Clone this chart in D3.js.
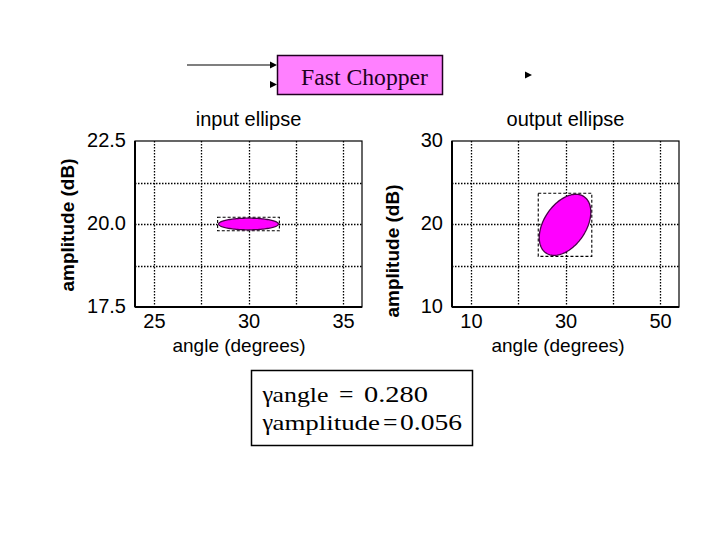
<!DOCTYPE html>
<html>
<head>
<meta charset="utf-8">
<script src="https://cdn.jsdelivr.net/npm/d3@7"></script>
<style>
  html, body { margin: 0; padding: 0; background: #fff; }
  svg { display: block; }
</style>
</head>
<body>
<svg id="chart" width="719" height="539"></svg>
<script>
// ---------------- data ----------------
const panelTitles = ["input ellipse", "output ellipse"];
const xDomains = [[24, 36], [6, 54]];
const yDomains = [[17.5, 22.5], [10, 30]];
const xTickValues = [[25, 30, 35], [10, 30, 50]];
const yTickValues = [[17.5, 20.0, 22.5], [10, 20, 30]];
const xGridValues = [[25, 27.5, 30, 32.5, 35], [10, 20, 30, 40, 50]];
const yGridValues = [[18.75, 20, 21.25], [15, 20, 25]];
const yTickFormats = [".1f", "d"];
// ellipse parameters: centre (angle, amplitude), half-widths, correlation
const ellipseCenterX = [30.0, 29.9];
const ellipseCenterY = [20.0, 19.9];
const ellipseHalfX = [1.58, 5.45];
const ellipseHalfY = [0.175, 3.68];
const ellipseCorr = [0.0, 0.42];
const gammaLabels = ["angle", "amplitude"];
const gammaValues = ["0.280", "0.056"];
const blockLabel = "Fast Chopper";

// ---------------- layout ----------------
const svg = d3.select("#chart");
svg.append("rect").attr("width", 719).attr("height", 539).attr("fill", "#fff");

const panels = [
  { left: 135, right: 362, top: 141, bottom: 307, ylabX: 74, ylabY: 225, xlabX: 239 },
  { left: 452, right: 679, top: 141, bottom: 307, ylabX: 399, ylabY: 251, xlabX: 558 }
];

panels.forEach((p, i) => {
  const x = d3.scaleLinear().domain(xDomains[i]).range([p.left, p.right]);
  const y = d3.scaleLinear().domain(yDomains[i]).range([p.bottom, p.top]);
  const g = svg.append("g");

  // frame
  g.append("rect")
    .attr("x", p.left).attr("y", p.top)
    .attr("width", p.right - p.left).attr("height", p.bottom - p.top)
    .attr("fill", "#fff").attr("stroke", "#000").attr("stroke-width", 1.2);

  // grid
  g.selectAll(".vg").data(xGridValues[i]).enter().append("line")
    .attr("x1", d => Math.round(x(d)) + 0.5).attr("x2", d => Math.round(x(d)) + 0.5)
    .attr("y1", p.top).attr("y2", p.bottom)
    .attr("stroke", "#000").attr("stroke-width", 1.3).attr("stroke-dasharray", "1.5,1.5");
  g.selectAll(".hg").data(yGridValues[i]).enter().append("line")
    .attr("x1", p.left).attr("x2", p.right)
    .attr("y1", d => Math.round(y(d)) + 0.5).attr("y2", d => Math.round(y(d)) + 0.5)
    .attr("stroke", "#000").attr("stroke-width", 1.3).attr("stroke-dasharray", "1.5,1.5");

  // ellipse
  const cx = ellipseCenterX[i], cy = ellipseCenterY[i];
  const a = ellipseHalfX[i], b = ellipseHalfY[i];
  const phi = Math.acos(ellipseCorr[i]);
  const ts = d3.range(0, 360, 3).map(t => t * Math.PI / 180);
  const pts = ts.map(t => [cx + a * Math.cos(t), cy + b * Math.cos(t - phi)]);
  const line = d3.line().x(d => x(d[0])).y(d => y(d[1])).curve(d3.curveLinearClosed);

  // bounding dashed box
  g.append("rect")
    .attr("x", x(cx - a) - 1).attr("y", y(cy + b) - 1)
    .attr("width", x(cx + a) - x(cx - a) + 2).attr("height", y(cy - b) - y(cy + b) + 2)
    .attr("fill", "none").attr("stroke", "#000").attr("stroke-width", 1.1)
    .attr("stroke-dasharray", "3,2");

  g.append("path").attr("d", line(pts))
    .attr("fill", "#ff00ff").attr("stroke", "#4a004a").attr("stroke-width", 1.3);

  // axes lines (thicker left/bottom)
  g.append("line").attr("x1", p.left).attr("x2", p.left).attr("y1", p.top).attr("y2", p.bottom)
    .attr("stroke", "#000").attr("stroke-width", 2);
  g.append("line").attr("x1", p.left).attr("x2", p.right).attr("y1", p.bottom).attr("y2", p.bottom)
    .attr("stroke", "#000").attr("stroke-width", 2);

  // axes ticks
  const ax = g.append("g").attr("transform", `translate(0,${p.bottom})`)
    .call(d3.axisBottom(x).tickValues(xTickValues[i]).tickSize(0).tickPadding(7).tickFormat(d3.format("d")));
  ax.select(".domain").remove();
  ax.selectAll("text").attr("font-family", "Liberation Sans, Arial, sans-serif")
    .attr("font-size", 20).attr("fill", "#000");

  const ay = g.append("g").attr("transform", `translate(${p.left},0)`)
    .call(d3.axisLeft(y).tickValues(yTickValues[i]).tickSize(0).tickPadding(9).tickFormat(d3.format(yTickFormats[i])));
  ay.select(".domain").remove();
  ay.selectAll("text").attr("font-family", "Liberation Sans, Arial, sans-serif")
    .attr("font-size", 20).attr("fill", "#000").attr("dy", "0.25em");

  // title
  g.append("text").attr("x", (p.left + p.right) / 2 + 0).attr("y", 126)
    .attr("text-anchor", "middle")
    .attr("font-family", "Liberation Sans, Arial, sans-serif").attr("font-size", 20)
    .text(panelTitles[i]);

  // x label
  g.append("text").attr("x", p.xlabX).attr("y", 352)
    .attr("text-anchor", "middle")
    .attr("font-family", "Liberation Sans, Arial, sans-serif").attr("font-size", 19)
    .text("angle (degrees)");

  // y label
  g.append("text")
    .attr("transform", `translate(${p.ylabX},${p.ylabY}) rotate(-90)`)
    .attr("text-anchor", "middle")
    .attr("font-family", "Liberation Sans, Arial, sans-serif").attr("font-size", 19)
    .attr("font-weight", "bold")
    .text("amplitude (dB)");
});

// ---------------- block diagram ----------------
const serif = "Liberation Serif, Times New Roman, serif";
function arrowHead(xTip, yc) {
  svg.append("path")
    .attr("d", `M${xTip - 7},${yc - 3.5} L${xTip},${yc} L${xTip - 7},${yc + 3.5} Z`)
    .attr("fill", "#000");
}
svg.append("line").attr("x1", 187).attr("x2", 272).attr("y1", 65).attr("y2", 65)
  .attr("stroke", "#000").attr("stroke-width", 1.2);
arrowHead(277, 65);
arrowHead(277, 84.5);
arrowHead(532, 75);

svg.append("rect").attr("x", 277.5).attr("y", 55.5).attr("width", 165).attr("height", 39)
  .attr("fill", "#ff80ff").attr("stroke", "#200020").attr("stroke-width", 1.5);
svg.append("text").attr("x", 301).attr("y", 85)
  .attr("font-family", serif).attr("font-size", 23.5).attr("fill", "#200020")
  .attr("textLength", 127).attr("lengthAdjust", "spacingAndGlyphs")
  .text(blockLabel);

// ---------------- gamma box ----------------
svg.append("rect").attr("x", 251.5).attr("y", 370.5).attr("width", 221).attr("height", 75)
  .attr("fill", "#fff").attr("stroke", "#000").attr("stroke-width", 1.5);

const gammaRows = [
  { base: 401.5, labX: 272.5, labW: 56, eqX: 339, valX: 364, valW: 64 },
  { base: 430, labX: 272.5, labW: 107.5, eqX: 383, valX: 400, valW: 62 }
];
gammaRows.forEach((r, i) => {
  svg.append("text").attr("x", 262.5).attr("y", r.base)
    .attr("font-family", serif).attr("font-size", 24).text("γ");
  svg.append("text").attr("x", r.labX).attr("y", r.base)
    .attr("font-family", serif).attr("font-size", 21)
    .attr("textLength", r.labW).attr("lengthAdjust", "spacingAndGlyphs")
    .text(gammaLabels[i]);
  svg.append("text").attr("x", r.eqX).attr("y", r.base)
    .attr("font-family", serif).attr("font-size", 24)
    .attr("textLength", 14.5).attr("lengthAdjust", "spacingAndGlyphs").text("=");
  svg.append("text").attr("x", r.valX).attr("y", r.base)
    .attr("font-family", serif).attr("font-size", 23)
    .attr("textLength", r.valW).attr("lengthAdjust", "spacingAndGlyphs")
    .text(gammaValues[i]);
});
</script>
</body>
</html>
